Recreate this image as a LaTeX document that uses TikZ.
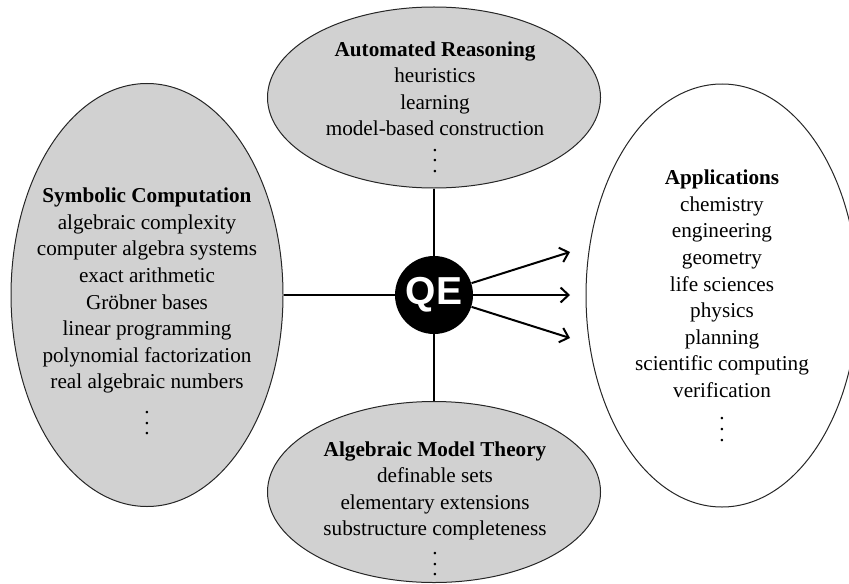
\documentclass[tikz,border=0pt]{standalone}
\usepackage{fontspec}
\setmainfont{Liberation Serif}
\newfontfamily\qesans{Liberation Sans}
\usetikzlibrary{shapes.geometric,arrows.meta}
\newcommand{\qdots}{\vbox{\baselineskip5.3pt\lineskiplimit0pt\hbox{.}\hbox{.}\hbox{.}}}
\tikzset{txt/.style={align=center,inner sep=0pt,anchor=north,font=\rmfamily\fontsize{10.6}{13.3}\selectfont}}

\begin{document}
\begin{tikzpicture}[x=0.5pt,y=-0.5pt]
	\useasboundingbox (0,0) rectangle (849,583);
	
	\begin{scope}[every node/.style={ellipse,draw=black!85,line width=0.5pt,fill=black!18}]
		\node[minimum width=166.5pt,minimum height=90.5pt] (AR) at (434,97.5) {};
		\node[minimum width=136pt,minimum height=211.5pt] (SC) at (147,295) {};
		\node[minimum width=166.5pt,minimum height=90.5pt] (AMT) at (434,492) {};
		\node[minimum width=136pt,minimum height=211.5pt,fill=white] (APP) at (722,295.5) {};
	\end{scope}
	
	\node[circle,fill=black,minimum size=39pt,inner sep=0pt,text=white,font=\qesans\bfseries\fontsize{19.5}{20}\selectfont] (QE) at (434,295) {QE};
	
	\node[txt] (ARtxt) at (435,41) {\textbf{Automated Reasoning}\\heuristics\\learning\\model-based construction\\[5pt]\qdots};
	\node[txt] (SCtxt) at (147,187.5) {\textbf{Symbolic Computation}\\algebraic complexity\\computer algebra systems\\exact arithmetic\\Gröbner bases\\linear programming\\polynomial factorization\\real algebraic numbers\\[8pt]\qdots};
	\node[txt] (APPtxt) at (722,169.5) {\textbf{Applications}\\chemistry\\engineering\\geometry\\life sciences\\physics\\planning\\scientific computing\\verification\\[8.5pt]\qdots};
	\node[txt] (AMTtxt) at (435,441) {\textbf{Algebraic Model Theory}\\definable sets\\elementary extensions\\substructure completeness\\[5pt]\qdots};
	
	\coordinate (e1) at (570,252);
	\coordinate (e2) at (570,295);
	\coordinate (e3) at (570,338);
	
	\begin{scope}[every edge/.style={draw=black,line width=1pt},>={Straight Barb[length=4pt,width=7.5pt]}]
		\path (AR) edge (QE);
		\path (SC) edge (QE);
		\path (QE) edge (AMT);
		\path [->] (QE) edge (e1);
		\path [->] (QE) edge (e2);
		\path [->] (QE) edge (e3);
	\end{scope}
\end{tikzpicture}
\end{document}
